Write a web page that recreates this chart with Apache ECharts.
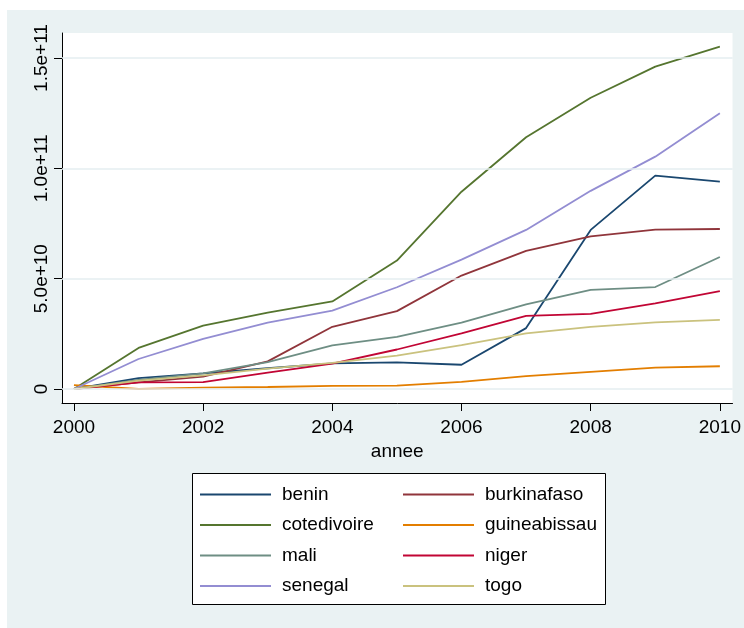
<!DOCTYPE html>
<html>
<head>
<meta charset="utf-8">
<script src="https://cdn.jsdelivr.net/npm/echarts@6/dist/echarts.min.js"></script>
<style>html,body{margin:0;padding:0;background:#fff}#c{width:744px;height:628px}</style>
</head>
<body>
<div id="c"></div>
<script>
const years = [2000,2001,2002,2003,2004,2005,2006,2007,2008,2009,2010];
const benin        = [0, 4.9e9, 7.1e9, 9.4e9, 1.16e10, 1.21e10, 1.10e10, 2.76e10, 7.21e10, 9.67e10, 9.40e10];
const burkinafaso  = [0, 3.0e9, 5.6e9, 1.25e10, 2.82e10, 3.53e10, 5.14e10, 6.26e10, 6.92e10, 7.22e10, 7.25e10];
const cotedivoire  = [0, 1.86e10, 2.87e10, 3.46e10, 3.97e10, 5.82e10, 8.94e10, 1.141e11, 1.32e11, 1.461e11, 1.552e11];
const guineabissau = [1.8e9, 0, 6e8, 9e8, 1.4e9, 1.5e9, 3.2e9, 5.8e9, 7.8e9, 9.7e9, 1.03e10];
const mali         = [0, 4.1e9, 7.1e9, 1.22e10, 1.98e10, 2.36e10, 3.01e10, 3.84e10, 4.49e10, 4.62e10, 5.98e10];
const niger        = [0, 3.0e9, 3.1e9, 7.4e9, 1.15e10, 1.79e10, 2.52e10, 3.31e10, 3.40e10, 3.88e10, 4.44e10];
const senegal      = [0, 1.36e10, 2.27e10, 3.01e10, 3.55e10, 4.61e10, 5.86e10, 7.21e10, 8.98e10, 1.053e11, 1.25e11];
const togo         = [0, 3.8e9, 6.2e9, 9.2e9, 1.18e10, 1.51e10, 1.99e10, 2.52e10, 2.82e10, 3.02e10, 3.13e10];
const yTicks = [0, 5e10, 1e11, 1.5e11];
const yTickLabels = ['0', '5.0e+10', '1.0e+11', '1.5e+11'];
const xTicks = [2000, 2002, 2004, 2006, 2008, 2010];
const seriesNames = ['benin','burkinafaso','cotedivoire','guineabissau','mali','niger','senegal','togo'];
const seriesData = [benin, burkinafaso, cotedivoire, guineabissau, mali, niger, senegal, togo];
const colors = ['#1A476F','#90353B','#55752F','#E37E00','#6E8E84','#C10534','#938DD2','#CAC27E'];

const FONT = '"Liberation Sans", Arial, sans-serif';
const FS = 19;
const chart = echarts.init(document.getElementById('c'), null, {renderer: 'canvas'});

const series = seriesNames.map((n, i) => ({
  name: n,
  type: 'line',
  symbol: 'none',
  showSymbol: false,
  data: years.map((y, k) => [y, seriesData[i][k]]),
  lineStyle: {color: colors[i], width: 1.8},
  itemStyle: {color: colors[i]},
  emphasis: {disabled: true},
  animation: false,
  z: 3
}));
series[0].markLine = {
  silent: true, symbol: 'none', animation: false,
  label: {show: false},
  lineStyle: {color: '#E4EEF0', width: 1.6, type: 'solid'},
  data: yTicks.map(v => ({yAxis: v}))
};

const legendCommon = {
  orient: 'vertical',
  top: 484.5,
  itemWidth: 71,
  itemHeight: 20,
  itemGap: 10.5,
  padding: 0,
  itemStyle: {opacity: 0},
  textStyle: {fontFamily: FONT, fontSize: FS, color: '#000', lineHeight: 20, padding: [0,0,0,6]},
  selectedMode: false,
  z: 10
};

chart.setOption({
  backgroundColor: '#ffffff',
  animation: false,
  color: colors,
  textStyle: {fontFamily: FONT},
  graphic: [
    {type: 'rect', z: -10, shape: {x: 7, y: 10, width: 737, height: 618}, style: {fill: '#EAF2F3'}},
    {type: 'rect', z: 5, shape: {x: 192.5, y: 473.5, width: 413, height: 131}, style: {fill: '#ffffff', stroke: '#000', lineWidth: 1}}
  ],
  grid: {left: 62, right: 8.3, top: 33, bottom: 225, show: true, backgroundColor: '#ffffff', borderWidth: 0},
  xAxis: {
    type: 'value',
    min: 1999.815, max: 2010.196,
    name: 'annee', nameLocation: 'middle', nameGap: 35,
    nameTextStyle: {fontFamily: FONT, fontSize: FS, color: '#000'},
    axisLine: {show: true, onZero: false, lineStyle: {color: '#000', width: 1}},
    axisTick: {show: true, length: 8, customValues: xTicks, lineStyle: {color: '#000'}},
    axisLabel: {customValues: xTicks, fontFamily: FONT, fontSize: FS, color: '#000', margin: 15,
      formatter: v => String(v)},
    splitLine: {show: false}
  },
  yAxis: {
    type: 'value',
    min: -6.344e9, max: 1.6133e11,
    axisLine: {show: true, onZero: false, lineStyle: {color: '#000', width: 1}},
    axisTick: {show: true, length: 8, customValues: yTicks, lineStyle: {color: '#000'}},
    axisLabel: {customValues: yTicks, rotate: 90, fontFamily: FONT, fontSize: FS, color: '#000', margin: 11,
      formatter: v => { const i = yTicks.indexOf(v); return i >= 0 ? yTickLabels[i] : ''; }},
    splitLine: {show: false}
  },
  legend: [
    Object.assign({}, legendCommon, {left: 199, data: ['benin','cotedivoire','mali','senegal']}),
    Object.assign({}, legendCommon, {left: 402, data: ['burkinafaso','guineabissau','niger','togo']})
  ],
  series: series
});
</script>
</body>
</html>
